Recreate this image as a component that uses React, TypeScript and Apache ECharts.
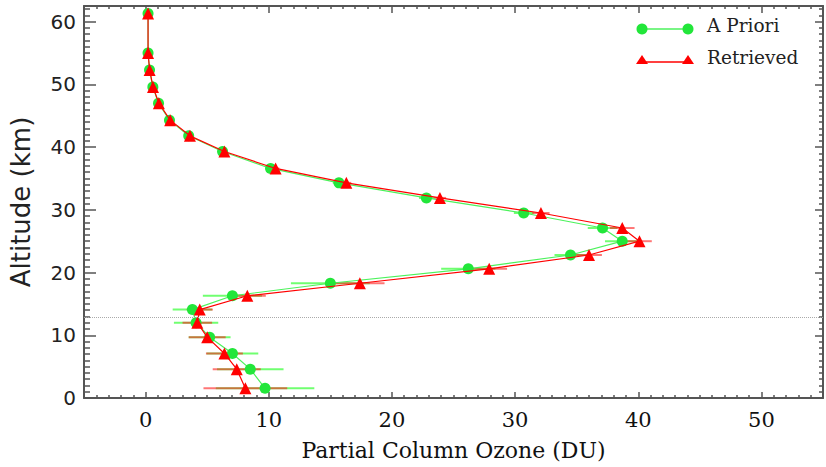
import React, { useEffect, useRef } from "react";
import * as echarts from "echarts";

const altitudeKm = [61.3, 55.0, 52.3, 49.6, 47.0, 44.3, 41.8, 39.3, 36.6, 34.3, 31.9, 29.5, 27.1, 25.0, 22.8, 20.6, 18.3, 16.3, 14.1, 12.0, 9.7, 7.1, 4.6, 1.55];
const aPriori = [0.2, 0.2, 0.32, 0.59, 1.05, 1.94, 3.5, 6.25, 10.15, 15.7, 22.8, 30.7, 37.1, 38.7, 34.5, 26.2, 15.0, 7.05, 3.8, 4.1, 5.2, 7.05, 8.5, 9.7];
const retrieved = [0.2, 0.2, 0.33, 0.6, 1.08, 2.0, 3.6, 6.4, 10.56, 16.3, 23.9, 32.1, 38.7, 40.1, 36.0, 27.9, 17.4, 8.26, 4.4, 4.2, 5.0, 6.4, 7.4, 8.1];
const aPrioriErr = [0.2, 0.2, 0.2, 0.2, 0.2, 0.2, 0.25, 0.3, 0.4, 0.5, 0.6, 0.8, 1.2, 1.4, 1.3, 2.2, 3.2, 2.4, 1.6, 1.8, 1.7, 2.1, 2.7, 4.0];
const retrievedErr = [0.15, 0.15, 0.15, 0.15, 0.15, 0.2, 0.2, 0.25, 0.3, 0.4, 0.5, 0.7, 1.0, 1.0, 1.05, 1.45, 2.0, 1.5, 1.06, 1.2, 1.5, 1.5, 1.95, 3.4];
const tropopauseKm = 12.9;
const legendNames = ["A Priori", "Retrieved"];

const GREEN = "#22e63a";
const GREEN_LINE = "#4cf25c";
const RED = "#ff0000";
const AXIS = "#555";
const SERIF = "DejaVu Serif";

export default function App() {
  const ref = useRef<HTMLDivElement>(null);
  useEffect(() => {
    if (!ref.current) return;
    const chart = echarts.init(ref.current, null, { renderer: "svg" });

    const errRender = (color: string, opacity: number) => (params: any, api: any) => {
      const x = api.value(0), y = api.value(1), e = api.value(2);
      const p1 = api.coord([x - e, y]);
      const p2 = api.coord([x + e, y]);
      return {
        type: "line",
        shape: { x1: p1[0], y1: p1[1], x2: p2[0], y2: p2[1] },
        style: { stroke: color, lineWidth: 2, opacity },
      };
    };

    const common = { min: -5, max: 55, splitNumber: 6 };
    const yCommon = { min: 0, max: 62.5, interval: 10 };
    const tickFmt = (v: number) => (v % 10 === 0 ? String(v) : "");
    const line = { show: true, onZero: false, lineStyle: { color: AXIS, width: 2 } };

    const option: any = {
      animation: false,
      backgroundColor: "#fff",
      grid: { left: 84, right: 3, top: 6, bottom: 69 },
      xAxis: [
        {
          type: "value", position: "bottom", ...common,
          name: "Partial Column Ozone (DU)", nameLocation: "middle", nameGap: 41,
          nameTextStyle: { fontFamily: SERIF, fontSize: 22, color: "#111" },
          axisLine: line,
          axisTick: { show: true, inside: true, length: 6, lineStyle: { color: AXIS, width: 1.5 } },
          minorTick: { show: true, splitNumber: 10, length: 3, lineStyle: { color: AXIS, width: 1.5 } },
          axisLabel: { formatter: tickFmt, margin: 11, fontFamily: SERIF, fontSize: 21, color: "#111" },
          splitLine: { show: false },
        },
        {
          type: "value", position: "top", ...common,
          axisLine: line,
          axisTick: { show: true, inside: true, length: 7, lineStyle: { color: AXIS, width: 1.5 } },
          minorTick: { show: true, splitNumber: 10, length: 3, lineStyle: { color: AXIS, width: 1.5 } },
          axisLabel: { show: false },
          splitLine: { show: false },
        },
      ],
      yAxis: [
        {
          type: "value", position: "left", ...yCommon,
          name: "Altitude (km)", nameLocation: "middle", nameGap: 50,
          nameTextStyle: { fontFamily: "DejaVu Sans", fontSize: 26, color: "#222" },
          axisLine: line,
          axisTick: { show: true, inside: true, length: 12, lineStyle: { color: AXIS, width: 1.5 } },
          minorTick: { show: true, splitNumber: 10, length: 6, lineStyle: { color: AXIS, width: 1.5 } },
          axisLabel: { formatter: tickFmt, margin: 8, fontFamily: "DejaVu Sans", fontSize: 20, color: "#222" },
          splitLine: { show: false },
        },
        {
          type: "value", position: "right", ...yCommon,
          axisLine: line,
          axisTick: { show: true, inside: true, length: 8, lineStyle: { color: AXIS, width: 1.5 } },
          minorTick: { show: true, splitNumber: 10, length: 4, lineStyle: { color: AXIS, width: 1.5 } },
          axisLabel: { show: false },
          splitLine: { show: false },
        },
      ],
      series: [
        {
          type: "custom", name: "A Priori err", xAxisIndex: 0, yAxisIndex: 0,
          renderItem: errRender("#40ff40", 0.75),
          encode: { x: 0, y: 1 },
          data: altitudeKm.map((a, i) => [aPriori[i], a, aPrioriErr[i]]),
          z: 1,
        },
        {
          type: "custom", name: "Retrieved err", xAxisIndex: 0, yAxisIndex: 0,
          renderItem: errRender("#ff1a1a", 0.6),
          encode: { x: 0, y: 1 },
          data: altitudeKm.map((a, i) => [retrieved[i], a, retrievedErr[i]]),
          z: 2,
        },
        {
          type: "line", name: legendNames[0], xAxisIndex: 0, yAxisIndex: 0,
          data: altitudeKm.map((a, i) => [aPriori[i], a]),
          symbol: "circle", symbolSize: 11,
          lineStyle: { color: GREEN_LINE, width: 1.2 },
          itemStyle: { color: GREEN },
          z: 3,
          markLine: {
            silent: true, symbol: "none", label: { show: false },
            lineStyle: { color: "#aaa", type: "dotted", width: 1 },
            data: [{ yAxis: tropopauseKm }],
          },
        },
        {
          type: "line", name: legendNames[1], xAxisIndex: 0, yAxisIndex: 0,
          data: altitudeKm.map((a, i) => [retrieved[i], a]),
          symbol: "triangle", symbolSize: 12,
          lineStyle: { color: RED, width: 1.2 },
          itemStyle: { color: RED },
          z: 4,
        },
      ],
      graphic: [
        { type: "line", shape: { x1: 642, y1: 29, x2: 688, y2: 29 }, style: { stroke: GREEN_LINE, lineWidth: 1.5 } },
        { type: "circle", shape: { cx: 642, cy: 29, r: 5.5 }, style: { fill: GREEN } },
        { type: "circle", shape: { cx: 688, cy: 29, r: 5.5 }, style: { fill: GREEN } },
        { type: "text", x: 707, y: 25, style: { text: legendNames[0], fontFamily: SERIF, fontSize: 18.5, fill: "#222", verticalAlign: "middle" } },
        { type: "line", shape: { x1: 642, y1: 62, x2: 688, y2: 62 }, style: { stroke: RED, lineWidth: 1.5 } },
        { type: "polygon", shape: { points: [[642, 55], [636, 64], [648, 64]] }, style: { fill: RED } },
        { type: "polygon", shape: { points: [[688, 55], [682, 64], [694, 64]] }, style: { fill: RED } },
        { type: "text", x: 707, y: 57, style: { text: legendNames[1], fontFamily: SERIF, fontSize: 18.5, fill: "#222", verticalAlign: "middle" } },
      ],
    };
    chart.setOption(option);
    return () => chart.dispose();
  }, []);
  return <div ref={ref} style={{ width: 826, height: 467, position: "absolute", left: 0, top: 0 }} />;
}
